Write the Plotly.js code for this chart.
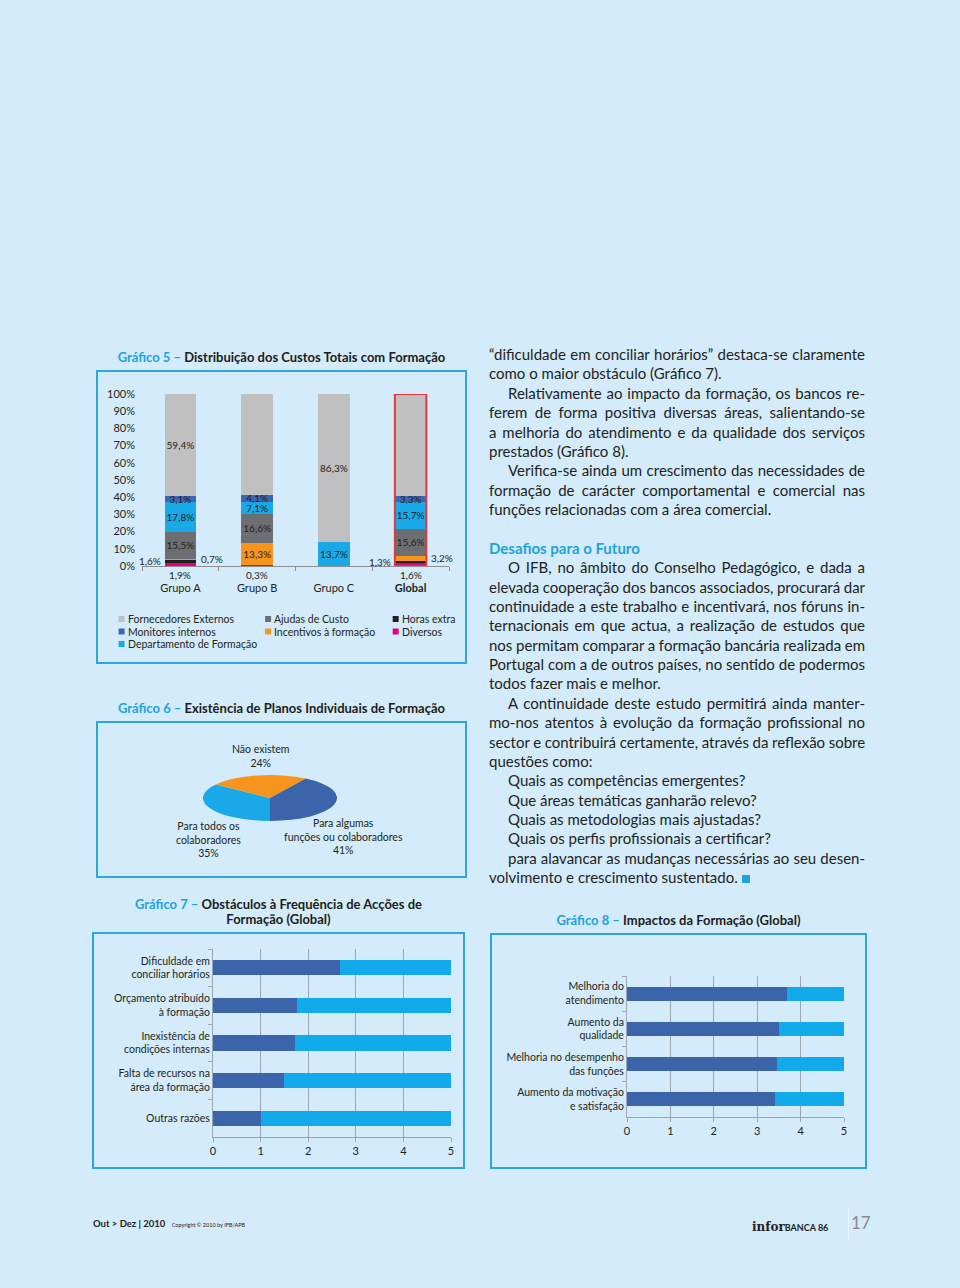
<!DOCTYPE html>
<html><head><meta charset="utf-8">
<script src="https://cdn.plot.ly/plotly-3.0.1.min.js"></script>
<style>
html,body{margin:0;padding:0;}
body{width:960px;height:1288px;background:#d3ebfa;position:relative;overflow:hidden;font-family:Lato,"Open Sans",sans-serif;color:#231f20;}
.abs{position:absolute;}
.box{position:absolute;border:2px solid #2ba7df;box-sizing:border-box;}
.ttl{position:absolute;font-weight:bold;font-size:13px;line-height:15px;text-align:center;color:#1d1d1b;white-space:nowrap;}
.ttl .g{color:#20a3dd;}
#text{position:absolute;left:489px;top:345px;width:376px;font-size:15px;line-height:19.375px;}
#text .l{white-space:nowrap;text-align:justify;text-align-last:justify;height:19.375px;overflow:visible;}
#text .e{text-align:left;text-align-last:left;}
#text .i{padding-left:19px;}
#text h3{margin:0;font-size:15px;color:#20a3dd;font-weight:bold;line-height:19.375px;padding-top:19.4px;}
</style></head>
<body>
<div class="ttl" style="left:96px;width:371px;top:350px;"><span class="g">Gráfico 5 –</span> Distribuição dos Custos Totais com Formação</div>
<div class="box" style="left:96px;top:370px;width:371px;height:294px;"></div>
<div id="c5" class="abs" style="left:98px;top:372px;width:367px;height:290px;"></div>

<div class="ttl" style="left:96px;width:371px;top:701px;"><span class="g">Gráfico 6 –</span> Existência de Planos Individuais de Formação</div>
<div class="box" style="left:96px;top:721px;width:371px;height:157px;"></div>
<div id="c6pie" class="abs" style="left:203px;top:731px;width:134px;height:134px;transform:scaleY(0.3433);transform-origin:50% 50%;"></div>
<div id="c6" class="abs" style="left:98px;top:723px;width:367px;height:153px;"></div>

<div class="ttl" style="left:92px;width:373px;top:897px;"><span class="g">Gráfico 7 –</span> Obstáculos à Frequência de Acções de<br>Formação (Global)</div>
<div class="box" style="left:92px;top:932px;width:373px;height:237px;"></div>
<div id="c7" class="abs" style="left:94px;top:934px;width:369px;height:233px;"></div>

<div class="ttl" style="left:490px;width:377px;top:913px;"><span class="g">Gráfico 8 –</span> Impactos da Formação (Global)</div>
<div class="box" style="left:490px;top:933px;width:377px;height:236px;"></div>
<div id="c8" class="abs" style="left:492px;top:935px;width:373px;height:232px;"></div>

<div id="text">
<div class="l">“dificuldade em conciliar horários” destaca-se claramente</div>
<div class="l e">como o maior obstáculo (Gráfico 7).</div>
<div class="l i">Relativamente ao impacto da formação, os bancos re-</div>
<div class="l">ferem de forma positiva diversas áreas, salientando-se</div>
<div class="l">a melhoria do atendimento e da qualidade dos serviços</div>
<div class="l e">prestados (Gráfico 8).</div>
<div class="l i">Verifica-se ainda um crescimento das necessidades de</div>
<div class="l">formação de carácter comportamental e comercial nas</div>
<div class="l e">funções relacionadas com a área comercial.</div>
<h3>Desafios para o Futuro</h3>
<div class="l i">O IFB, no âmbito do Conselho Pedagógico, e dada a</div>
<div class="l">elevada cooperação dos bancos associados, procurará dar</div>
<div class="l">continuidade a este trabalho e incentivará, nos fóruns in-</div>
<div class="l">ternacionais em que actua, a realização de estudos que</div>
<div class="l">nos permitam comparar a formação bancária realizada em</div>
<div class="l">Portugal com a de outros países, no sentido de podermos</div>
<div class="l e">todos fazer mais e melhor.</div>
<div class="l i">A continuidade deste estudo permitirá ainda manter-</div>
<div class="l">mo-nos atentos à evolução da formação profissional no</div>
<div class="l">sector e contribuirá certamente, através da reflexão sobre</div>
<div class="l e">questões como:</div>
<div class="l e i">Quais as competências emergentes?</div>
<div class="l e i">Que áreas temáticas ganharão relevo?</div>
<div class="l e i">Quais as metodologias mais ajustadas?</div>
<div class="l e i">Quais os perfis profissionais a certificar?</div>
<div class="l i">para alavancar as mudanças necessárias ao seu desen-</div>
<div class="l e">volvimento e crescimento sustentado. <span style="display:inline-block;width:8px;height:8px;background:#20a3dd;"></span></div>
</div>

<div class="abs" style="left:93px;top:1218px;font-size:9.5px;font-weight:bold;white-space:nowrap;">Out &gt; Dez | 2010 <span style="font-size:5.5px;font-weight:normal;margin-left:4px;">Copyright © 2010 by IFB/APB</span></div>
<div class="abs" style="left:752px;top:1215px;white-space:nowrap;"><span style="font-family:'DejaVu Serif',serif;font-size:12px;font-weight:bold;">infor</span><span style="font-size:9px;font-weight:bold;">BANCA 86</span></div>
<div class="abs" style="left:848px;top:1207px;width:1px;height:33px;background:#eef7fd;"></div>
<div class="abs" style="left:851px;top:1212px;font-size:17px;color:#8a8a8a;">17</div>

<script>
// fit justified lines that are too long
document.querySelectorAll('#text .l').forEach(el => {
  let ws = 0;
  while (el.scrollWidth > el.clientWidth + 0.5 && ws > -4) { ws -= 0.25; el.style.wordSpacing = ws + 'px'; }
});

// ---------- DATA ----------
const groups = ['Grupo A', 'Grupo B', 'Grupo C', 'Global'];
const groupTickText = ['Grupo A', 'Grupo B', 'Grupo C', '<b>Global</b>'];
const costSeriesNames = ['Diversos', 'Horas extra', 'Incentivos à formação', 'Ajudas de Custo', 'Departamento de Formação', 'Monitores internos', 'Fornecedores Externos'];
const diversos      = [1.9, 0.3, null, 1.6];
const horasExtra    = [1.6, null, null, 1.3];
const incentivos    = [0.7, 13.3, null, 3.2];
const ajudasCusto   = [15.5, 16.6, null, 15.6];
const departamento  = [17.8, 7.1, 13.7, 15.7];
const monitores     = [3.1, 4.1, null, 3.3];
const fornecedores  = [59.4, 58.7, 86.3, 59.4];
const costColors = ['#e5007e', '#231f20', '#f7941d', '#6d6e71', '#1aa9e8', '#3d67b0', '#c0c0c0'];
const legendOrder = [['Fornecedores Externos', 'Ajudas de Custo', 'Horas extra'], ['Monitores internos', 'Incentivos à formação', 'Diversos'], ['Departamento de Formação']];

const planLabels = ['Para todos os<br>colaboradores', 'Não existem', 'Para algumas<br>funções ou colaboradores'];
const planValues = [35, 24, 41];
const planColors = ['#1aa9e8', '#f7941d', '#3b64aa'];

const obstacles = ['Dificuldade em<br>conciliar horários', 'Orçamento atribuído<br>à formação', 'Inexistência de<br>condições internas', 'Falta de recursos na<br>área da formação', 'Outras razões'];
const obstacleScore = [2.66, 1.77, 1.72, 1.50, 1.00];
const obstacleRest  = [2.34, 3.23, 3.28, 3.50, 4.00];

const impacts = ['Melhoria do<br>atendimento', 'Aumento da<br>qualidade', 'Melhoria no desempenho<br>das funções', 'Aumento da motivação<br>e satisfação'];
const impactScore = [3.68, 3.50, 3.46, 3.42];
const impactRest  = [1.32, 1.50, 1.54, 1.58];

// ---------- HELPERS ----------
const FONT = 'Lato, "Open Sans", sans-serif';
const INK = '#231f20';
const fmt = v => v.toFixed(1).replace('.', ',') + '%';
const cfg = {displayModeBar: false, staticPlot: true};

// ---------- CHART 5 ----------
(function () {
  const seriesVals = [diversos, horasExtra, incentivos, ajudasCusto, departamento, monitores, fornecedores];
  const outsideRule = {0: 'below', 1: 'left', 2: 'right'}; // for small values
  const W = 367, H = 290, M = {l: 43.5, r: 15.5, t: 22, b: 96};
  const pw = W - M.l - M.r, ph = H - M.t - M.b;
  const px2x = x => (x - M.l) / pw, py2y = y => 1 - (y - M.t) / ph;
  const barW = 0.41;
  const traces = seriesVals.map((vals, s) => ({
    type: 'bar', x: groups, y: vals, name: costSeriesNames[s],
    marker: {color: costColors[s], line: {width: 0}},
    width: barW,
    text: vals.map(v => (v == null || (outsideRule[s] && v < 5)) ? '' : fmt(v)),
    textposition: 'inside', insidetextanchor: 'middle', textangle: 0, constraintext: 'none',
    textfont: {family: FONT, size: 10, color: INK}, cliponaxis: false,
    hoverinfo: 'none', showlegend: false
  }));
  const ann = [];
  groups.forEach((g, i) => {
    let cum = 0;
    seriesVals.forEach((vals, s) => {
      const v = vals[i];
      if (v == null) return;
      const mid = cum + v / 2;
      const pos = outsideRule[s];
      if (pos && v < 5) {
        const a = {text: fmt(v), showarrow: false, font: {family: FONT, size: 10, color: INK}, xref: 'x', yref: 'y'};
        if (pos === 'left') Object.assign(a, {x: i - barW / 2, y: mid, xanchor: 'right', xshift: -2});
        if (pos === 'right') Object.assign(a, {x: i + barW / 2, y: mid, xanchor: 'left', xshift: 3});
        if (pos === 'below') Object.assign(a, {x: i, y: 0, yanchor: 'top', yshift: -1});
        ann.push(a);
      }
      cum += v;
    });
  });
  // legend built from series names
  const colX = [20, 167, 295], rowY = [247, 259.5, 272];
  const shapes = [{type: 'rect', xref: 'x', yref: 'y', x0: 3 - barW / 2, x1: 3 + barW / 2, y0: 0, y1: 100, line: {color: '#e2383f', width: 2}}];
  legendOrder.forEach((row, r) => row.forEach((name, c) => {
    const s = costSeriesNames.indexOf(name);
    shapes.push({type: 'rect', xref: 'paper', yref: 'paper', x0: px2x(colX[c]), x1: px2x(colX[c] + 6), y0: py2y(rowY[r] + 3), y1: py2y(rowY[r] - 3), fillcolor: costColors[s], line: {width: 0}});
    ann.push({text: name, xref: 'paper', yref: 'paper', x: px2x(colX[c] + 7), y: py2y(rowY[r]), xanchor: 'left', yanchor: 'middle', showarrow: false, font: {family: FONT, size: 10.5, color: INK}});
  }));
  Plotly.newPlot('c5', traces, {
    width: W, height: H, margin: M, barmode: 'stack',
    paper_bgcolor: 'rgba(0,0,0,0)', plot_bgcolor: 'rgba(0,0,0,0)',
    separators: ',.', font: {family: FONT, color: INK},
    xaxis: {type: 'category', range: [-0.5, 3.5], autorange: false, tickvals: groups, ticktext: groupTickText, showline: true, linecolor: '#8f8f8f', linewidth: 1,
      ticks: 'outside', tickson: 'boundaries', ticklen: 4, tickcolor: '#8f8f8f', ticklabelstandoff: 12,
      tickfont: {family: FONT, size: 11, color: INK}, showgrid: false, fixedrange: true},
    yaxis: {range: [0, 100], autorange: false, dtick: 10, ticksuffix: '%', showgrid: false, zeroline: false, showline: false, ticks: '',
      ticklabelstandoff: 6, tickfont: {family: FONT, size: 11, color: INK}},
    annotations: ann, shapes: shapes
  }, cfg);
})();

// ---------- CHART 6 ----------
Plotly.newPlot('c6pie', [{
  type: 'pie', labels: planLabels, values: planValues, sort: false, direction: 'clockwise', rotation: 180,
  marker: {colors: planColors, line: {width: 0}}, textinfo: 'none', hoverinfo: 'none'
}], {width: 134, height: 134, margin: {l: 0, r: 0, t: 0, b: 0}, showlegend: false, paper_bgcolor: 'rgba(0,0,0,0)'}, cfg);

(function () {
  const W = 367, H = 153;
  const labelPos = [[110, 116.5], [162, 33], [245, 113.5]];
  const ann = planLabels.map((lab, i) => ({
    text: lab + '<br>' + planValues[i] + '%', xref: 'paper', yref: 'paper',
    x: labelPos[i][0] / W, y: 1 - labelPos[i][1] / H, xanchor: 'center', yanchor: 'middle', align: 'center',
    showarrow: false, font: {family: FONT, size: 10.5, color: INK}
  }));
  Plotly.newPlot('c6', [], {
    width: W, height: H, margin: {l: 0, r: 0, t: 0, b: 0}, paper_bgcolor: 'rgba(0,0,0,0)', plot_bgcolor: 'rgba(0,0,0,0)',
    xaxis: {visible: false}, yaxis: {visible: false}, annotations: ann
  }, cfg);
})();

// ---------- CHARTS 7 & 8 ----------
function hbar(id, cats, score, rest, W, H, M) {
  const axisCol = '#9aa6b0';
  const common = {type: 'bar', orientation: 'h', y: cats, hoverinfo: 'none', showlegend: false, width: 0.4};
  Plotly.newPlot(id, [
    Object.assign({}, common, {x: score, marker: {color: '#3b64aa', line: {width: 0}}}),
    Object.assign({}, common, {x: rest, marker: {color: '#12aaeb', line: {width: 0}}})
  ], {
    width: W, height: H, margin: M, barmode: 'stack',
    paper_bgcolor: 'rgba(0,0,0,0)', plot_bgcolor: 'rgba(0,0,0,0)', font: {family: FONT, color: INK},
    xaxis: {range: [0, 5], dtick: 1, showgrid: true, gridcolor: axisCol, gridwidth: 1, zeroline: false,
      showline: true, linecolor: axisCol, ticks: 'outside', ticklen: 4, tickcolor: axisCol,
      tickfont: {family: FONT, size: 11, color: INK}},
    yaxis: {type: 'category', autorange: 'reversed', showline: true, linecolor: axisCol, ticks: 'outside',
      tickson: 'boundaries', ticklen: 4, tickcolor: axisCol, showgrid: false,
      tickfont: {family: FONT, size: 10.5, color: INK}}
  }, cfg);
}
hbar('c7', obstacles, obstacleScore, obstacleRest, 369, 233, {l: 118.5, r: 12, t: 15, b: 30});
hbar('c8', impacts, impactScore, impactRest, 373, 232, {l: 135, r: 20.7, t: 41, b: 50.3});
</script>
</body></html>
